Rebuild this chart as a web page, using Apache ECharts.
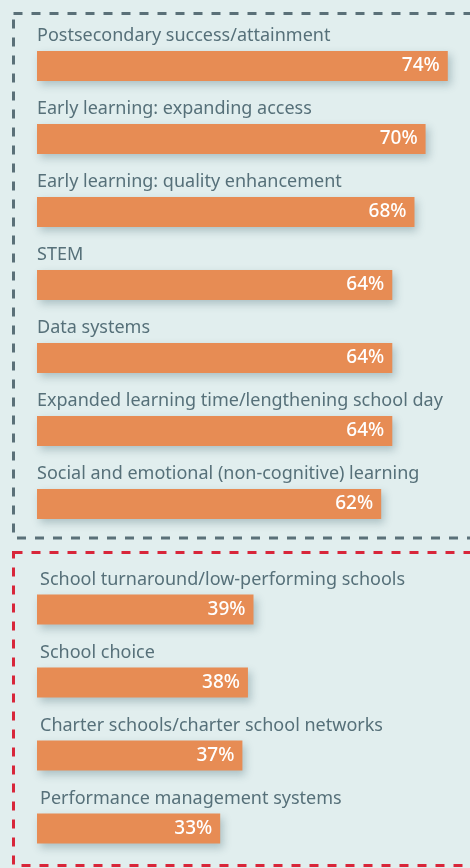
<!DOCTYPE html>
<html><head><meta charset="utf-8">
<script src="https://cdn.jsdelivr.net/npm/echarts@6/dist/echarts.min.js"></script>
<style>html,body{margin:0;padding:0;background:#e1eeee;}#c{width:470px;height:868px;}</style>
</head><body><div id="c"></div>
<script>
var categoriesTop = ["Postsecondary success/attainment","Early learning: expanding access","Early learning: quality enhancement","STEM","Data systems","Expanded learning time/lengthening school day","Social and emotional (non-cognitive) learning"];
var valuesTop = [74,70,68,64,64,64,62];
var categoriesBottom = ["School turnaround/low-performing schools","School choice","Charter schools/charter school networks","Performance management systems"];
var valuesBottom = [39,38,37,33];

var FONT = "Noto Sans";
var barColor = "#e78c54";
var textColor = "#567079";

function makeSeries(idx, cats, vals, labelDx) {
  return [
    {
      type: "bar", xAxisIndex: idx, yAxisIndex: idx, data: vals, barWidth: 30,
      itemStyle: { color: barColor, shadowColor: "rgba(40,80,90,0.28)", shadowBlur: 8, shadowOffsetX: 3, shadowOffsetY: 4 },
      label: { show: true, position: [labelDx, -6], align: "left", verticalAlign: "bottom",
        formatter: function (p) { return cats[p.dataIndex]; },
        color: textColor, fontFamily: FONT, fontSize: 18 },
      silent: true, animation: false
    },
    {
      type: "bar", xAxisIndex: idx, yAxisIndex: idx, data: vals, barWidth: 30, barGap: "-100%",
      itemStyle: { color: "rgba(0,0,0,0)" },
      label: { show: true, position: "insideRight", distance: 8, formatter: "{c}%",
        color: "#ffffff", fontFamily: FONT, fontSize: 19, fontWeight: 500 },
      silent: true, animation: false
    }
  ];
}

var chart = echarts.init(document.getElementById("c"));
var axisX = { type: "value", min: 0, max: 78, show: false };
chart.setOption({
  backgroundColor: "#e1eeee",
  animation: false,
  grid: [
    { left: 37, right: 0, top: 29.5, height: 511 },
    { left: 37, right: 0, top: 573, height: 292 }
  ],
  xAxis: [Object.assign({ gridIndex: 0 }, axisX), Object.assign({ gridIndex: 1 }, axisX)],
  yAxis: [
    { type: "category", gridIndex: 0, data: categoriesTop, inverse: true, show: false },
    { type: "category", gridIndex: 1, data: categoriesBottom, inverse: true, show: false }
  ],
  graphic: [
    { type: "rect", shape: { x: 13.5, y: 13.5, width: 500, height: 524.5 }, silent: true,
      style: { fill: null, stroke: "#5a7078", lineWidth: 3, lineDash: [9, 9] } },
    { type: "rect", shape: { x: 13.5, y: 552.5, width: 500, height: 313 }, silent: true,
      style: { fill: null, stroke: "#d8263a", lineWidth: 3, lineDash: [9, 9] } }
  ],
  series: makeSeries(0, categoriesTop, valuesTop, 0).concat(makeSeries(1, categoriesBottom, valuesBottom, 3))
});
</script></body></html>
